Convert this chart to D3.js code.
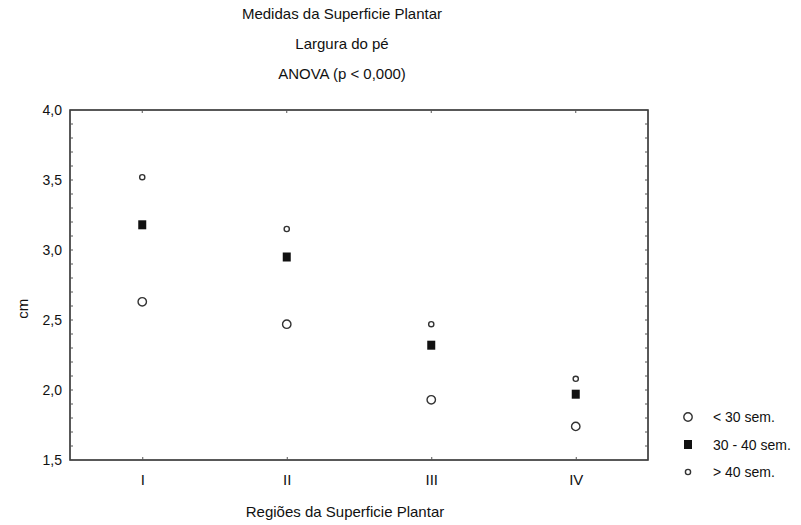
<!DOCTYPE html>
<html>
<head>
<meta charset="utf-8">
<script src="https://cdn.jsdelivr.net/npm/d3@7"></script>
<style>
  body { margin: 0; background: #fff; }
  text { font-family: "Liberation Sans", Arial, sans-serif; fill: #111; }
</style>
</head>
<body>
<div id="chart"></div>
<script>
// data
var regioes = ["I", "II", "III", "IV"];
var menos30 = [2.63, 2.47, 1.93, 1.74];
var entre30e40 = [3.18, 2.95, 2.32, 1.97];
var mais40 = [3.52, 3.15, 2.47, 2.08];
var seriesNames = ["< 30 sem.", "30 - 40 sem.", "> 40 sem."];
var yTicks = [1.5, 2.0, 2.5, 3.0, 3.5, 4.0];

var width = 801, height = 525;
var margin = { left: 70, right: 153, top: 110, bottom: 65 };

var svg = d3.select("#chart").append("svg")
  .attr("width", width)
  .attr("height", height);

var x = d3.scalePoint()
  .domain(regioes)
  .range([margin.left, width - margin.right])
  .padding(0.5);

var y = d3.scaleLinear()
  .domain([1.5, 4.0])
  .range([height - margin.bottom, margin.top]);

var fmt = function(d) { return d3.format(".1f")(d).replace(".", ","); };
var minor = d3.range(15, 41).map(function(d) { return d / 10; });

// frame
svg.append("rect")
  .attr("x", margin.left)
  .attr("y", margin.top)
  .attr("width", width - margin.left - margin.right)
  .attr("height", height - margin.top - margin.bottom)
  .attr("fill", "none")
  .attr("stroke", "#222")
  .attr("stroke-width", 1.5);

// left axis
var left = svg.append("g")
  .attr("transform", "translate(" + margin.left + ",0)")
  .call(d3.axisLeft(y).tickValues(yTicks).tickFormat(fmt).tickSize(0).tickPadding(8));
left.select(".domain").remove();
left.selectAll("text").attr("font-size", 14).attr("fill", "#111");

// minor ticks inside, left and right
svg.append("g").selectAll("line").data(minor).enter().append("line")
  .attr("x1", margin.left).attr("x2", margin.left + 3)
  .attr("y1", function(d) { return y(d); }).attr("y2", function(d) { return y(d); })
  .attr("stroke", "#555");
svg.append("g").selectAll("line").data(minor).enter().append("line")
  .attr("x1", width - margin.right - 3).attr("x2", width - margin.right)
  .attr("y1", function(d) { return y(d); }).attr("y2", function(d) { return y(d); })
  .attr("stroke", "#555");

// bottom axis
var bottom = svg.append("g")
  .attr("transform", "translate(0," + (height - margin.bottom) + ")")
  .call(d3.axisBottom(x).tickSize(-3).tickPadding(14));
bottom.select(".domain").remove();
bottom.selectAll("line").attr("stroke", "#555");
bottom.selectAll("text").attr("font-size", 15).attr("fill", "#111");

// top ticks
svg.append("g").selectAll("line").data(regioes).enter().append("line")
  .attr("x1", function(d) { return x(d); }).attr("x2", function(d) { return x(d); })
  .attr("y1", margin.top).attr("y2", margin.top + 3)
  .attr("stroke", "#555");

// titles
var titles = ["Medidas da Superficie Plantar", "Largura do pé", "ANOVA (p < 0,000)"];
svg.append("g").selectAll("text").data(titles).enter().append("text")
  .attr("x", 342)
  .attr("y", function(d, i) { return 19 + i * 30; })
  .attr("text-anchor", "middle")
  .attr("font-size", 15)
  .text(function(d) { return d; });

svg.append("text")
  .attr("x", 345).attr("y", 517)
  .attr("text-anchor", "middle")
  .attr("font-size", 15)
  .text("Regiões da Superficie Plantar");

svg.append("text")
  .attr("transform", "translate(28," + y(2.58) + ") rotate(-90)")
  .attr("text-anchor", "middle")
  .attr("font-size", 15)
  .text("cm");

// markers
function drawMarker(g, type) {
  if (type == 0) {
    g.append("circle").attr("r", 4.2).attr("fill", "#fff").attr("stroke", "#333").attr("stroke-width", 1.4);
  } else if (type == 1) {
    g.append("rect").attr("x", -4).attr("y", -4.5).attr("width", 8).attr("height", 9).attr("fill", "#111");
  } else {
    g.append("circle").attr("r", 2.6).attr("fill", "#fff").attr("stroke", "#333").attr("stroke-width", 1.4);
  }
}

var series = [menos30, entre30e40, mais40];
series.forEach(function(vals, s) {
  vals.forEach(function(v, i) {
    var g = svg.append("g").attr("transform", "translate(" + x(regioes[i]) + "," + y(v) + ")");
    drawMarker(g, s);
  });
});

// legend
var legend = svg.append("g").attr("transform", "translate(688,417)");
seriesNames.forEach(function(name, i) {
  var g = legend.append("g").attr("transform", "translate(0," + (i * 27.5) + ")");
  drawMarker(g, i);
  g.append("text").attr("x", 25).attr("y", 5).attr("font-size", 14).text(name);
});
</script>
</body>
</html>
